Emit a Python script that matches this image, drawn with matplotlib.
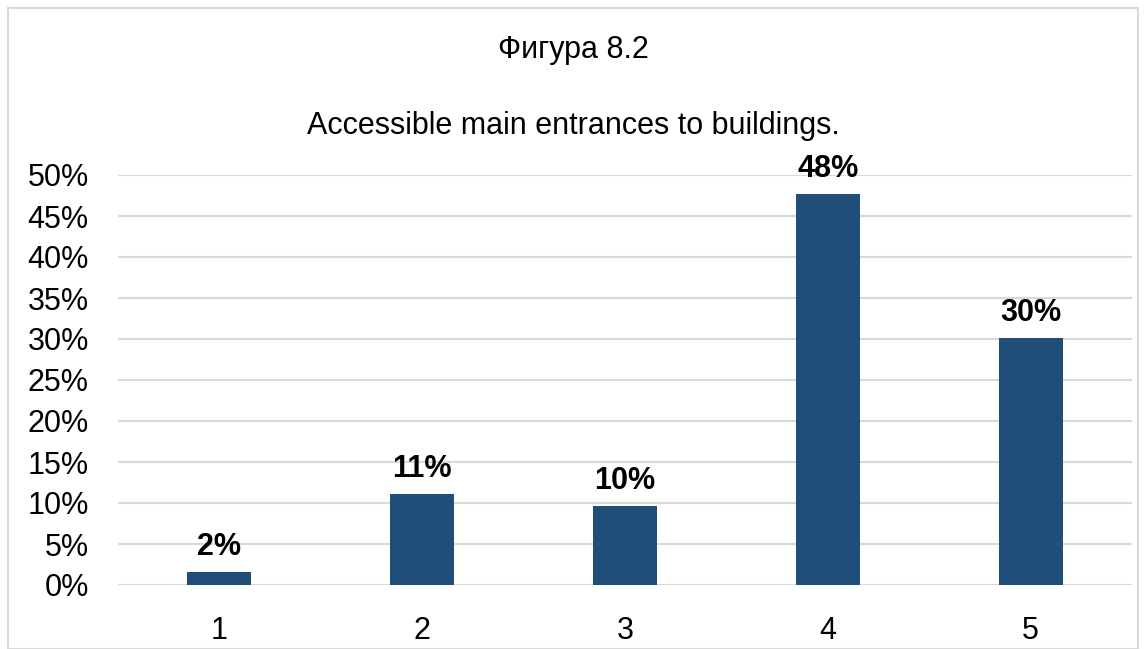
import matplotlib.pyplot as plt
from matplotlib.ticker import PercentFormatter, MultipleLocator
from matplotlib.patches import Rectangle

categories = ['1', '2', '3', '4', '5']
shares = [0.016, 0.111, 0.096, 0.477, 0.301]

plt.rcParams['font.family'] = ['Liberation Sans', 'DejaVu Sans']

fig = plt.figure(figsize=(11.46, 6.49), dpi=100)
ax = fig.add_axes([118 / 1146, 1 - 585 / 649, 1014 / 1146, 410 / 649])

x = range(len(categories))
bars = ax.bar(x, shares, width=0.315, color='#1F4E79', zorder=3)

for b, v in zip(bars, shares):
    ax.text(b.get_x() + b.get_width() / 2, v + 0.012, f'{v:.0%}',
            ha='center', va='bottom', fontsize=22, fontweight='bold')

ax.set_xlim(-0.5, len(categories) - 0.5)
ax.set_ylim(0, 0.5)
ax.yaxis.set_major_locator(MultipleLocator(0.05))
ax.yaxis.set_major_formatter(PercentFormatter(1.0, decimals=0))
ax.set_xticks(list(x))
ax.set_xticklabels(categories)
ax.tick_params(axis='both', length=0, labelsize=22, colors='black')
ax.tick_params(axis='x', pad=22)
ax.tick_params(axis='y', pad=21)
ax.grid(axis='y', color='#D9D9D9', linewidth=1.5, zorder=0)
for s in ax.spines.values():
    s.set_visible(False)

fig.text(0.5, 1 - 50 / 649, 'Фигура 8.2', ha='center', va='center', fontsize=22)
fig.text(0.5, 1 - 126 / 649, 'Accessible main entrances to buildings.',
         ha='center', va='center', fontsize=22)

fig.patches.append(Rectangle((8 / 1146, 0), 1 - 16 / 1146, 1 - 8 / 649,
                             transform=fig.transFigure, fill=False,
                             edgecolor='#D9D9D9', linewidth=1.5))

plt.savefig('out.png', dpi=100)
